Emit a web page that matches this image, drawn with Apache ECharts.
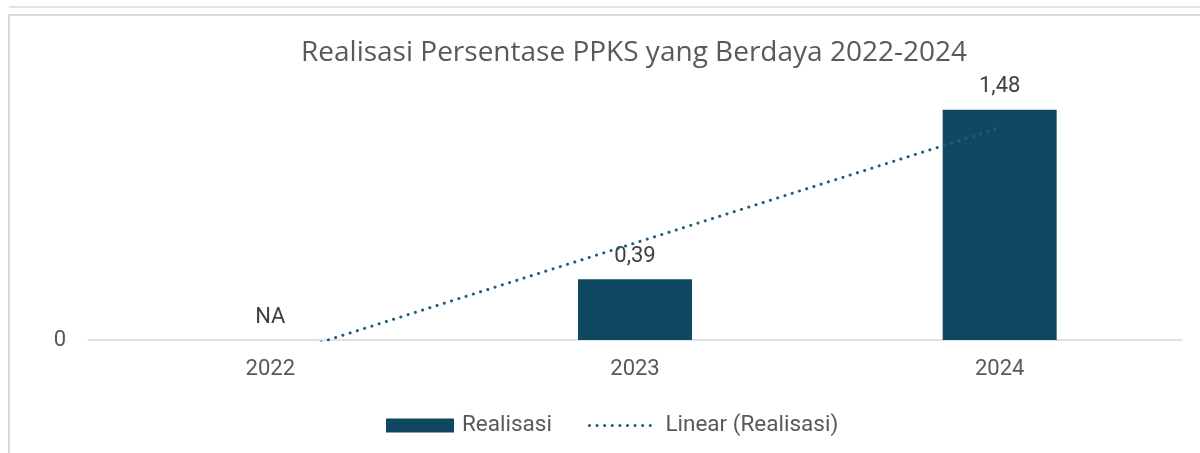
<!DOCTYPE html>
<html>
<head>
<meta charset="utf-8">
<script src="https://cdn.jsdelivr.net/npm/echarts@6/dist/echarts.min.js"></script>
<style>
html,body{margin:0;padding:0;background:#fff;}
#chart{width:1200px;height:453px;}
</style>
</head>
<body>
<div id="chart"></div>
<script>
// ---- data ----
const categories = ['2022', '2023', '2024'];
const realisasi = [null, 0.39, 1.48];   // null = NA (not available)
const naLabel = 'NA';
const yTickLabels = ['0'];
const titleText = 'Realisasi Persentase PPKS yang Berdaya 2022-2024';
const seriesName = 'Realisasi';
const trendName = 'Linear (Realisasi)';

// Linear trendline (least squares, NA counted as 0 like the spreadsheet did)
const ys = realisasi.map(v => (v == null ? 0 : v));
const xs = ys.map((_, i) => i + 1);
const n = ys.length;
const mx = xs.reduce((a, b) => a + b, 0) / n;
const my = ys.reduce((a, b) => a + b, 0) / n;
let sxy = 0, sxx = 0;
for (let i = 0; i < n; i++) { sxy += (xs[i] - mx) * (ys[i] - my); sxx += (xs[i] - mx) ** 2; }
const slope = sxy / sxx;
const trend = xs.map(x => my + slope * (x - mx));

const fmt = v => v.toFixed(2).replace('.', ',');

const barColor = '#104862';
const trendColor = '#1a5f80';
const textColor = '#595959';
const font = 'Roboto';
const dotted = { color: trendColor, width: 3, type: [0.1, 7.5], cap: 'round' };

const chart = echarts.init(document.getElementById('chart'));
chart.setOption({
  animation: false,
  backgroundColor: '#fff',
  title: {
    text: titleText,
    left: 296,
    top: 34,
    textStyle: { fontFamily: 'Open Sans', fontSize: 28, fontWeight: 'normal', color: textColor }
  },
  graphic: [
    { type: 'line', shape: { x1: 9, y1: 7, x2: 1200, y2: 7 }, style: { stroke: '#d9d9d9', lineWidth: 1.5 }, silent: true },
    { type: 'rect', shape: { x: 9, y: 15, width: 1300, height: 500 }, style: { fill: 'none', stroke: '#d9d9d9', lineWidth: 2 }, silent: true }
  ],
  grid: { left: 88, right: 18, top: 91, bottom: 113, containLabel: false },
  legend: {
    bottom: 11,
    left: 381,
    itemWidth: 68,
    itemHeight: 14,
    itemGap: 36,
    textStyle: { fontFamily: font, fontSize: 22.5, color: textColor, padding: [0, 0, 0, 3] },
    data: [
      { name: seriesName, icon: 'rect' },
      { name: trendName, itemStyle: { opacity: 0 }, lineStyle: dotted }
    ]
  },
  xAxis: {
    type: 'category',
    data: categories,
    boundaryGap: true,
    axisLine: { lineStyle: { color: '#d9d9d9', width: 1.5 } },
    axisTick: { show: false },
    axisLabel: { fontFamily: font, fontSize: 22, color: textColor, margin: 18 }
  },
  yAxis: {
    type: 'value',
    min: 0,
    max: 1.6,
    interval: 0.4,
    splitLine: { show: false },
    axisLine: { show: false },
    axisTick: { show: false },
    axisLabel: {
      fontFamily: font, fontSize: 22, color: textColor, margin: 22,
      formatter: v => (yTickLabels.indexOf(String(v)) >= 0 ? String(v) : '')
    }
  },
  series: [
    {
      name: seriesName,
      type: 'bar',
      barWidth: 114,
      itemStyle: { color: barColor },
      label: {
        show: true,
        position: 'top',
        distance: 12,
        fontFamily: font, fontSize: 22, color: '#404040',
        formatter: p => (realisasi[p.dataIndex] == null ? naLabel : fmt(p.value))
      },
      data: realisasi.map(v => (v == null ? 0 : v)),
      z: 2
    },
    {
      name: trendName,
      type: 'line',
      data: trend,
      symbol: 'none',
      showSymbol: false,
      clip: true,
      lineStyle: dotted,
      itemStyle: { color: trendColor },
      z: 3
    }
  ]
});
</script>
</body>
</html>
